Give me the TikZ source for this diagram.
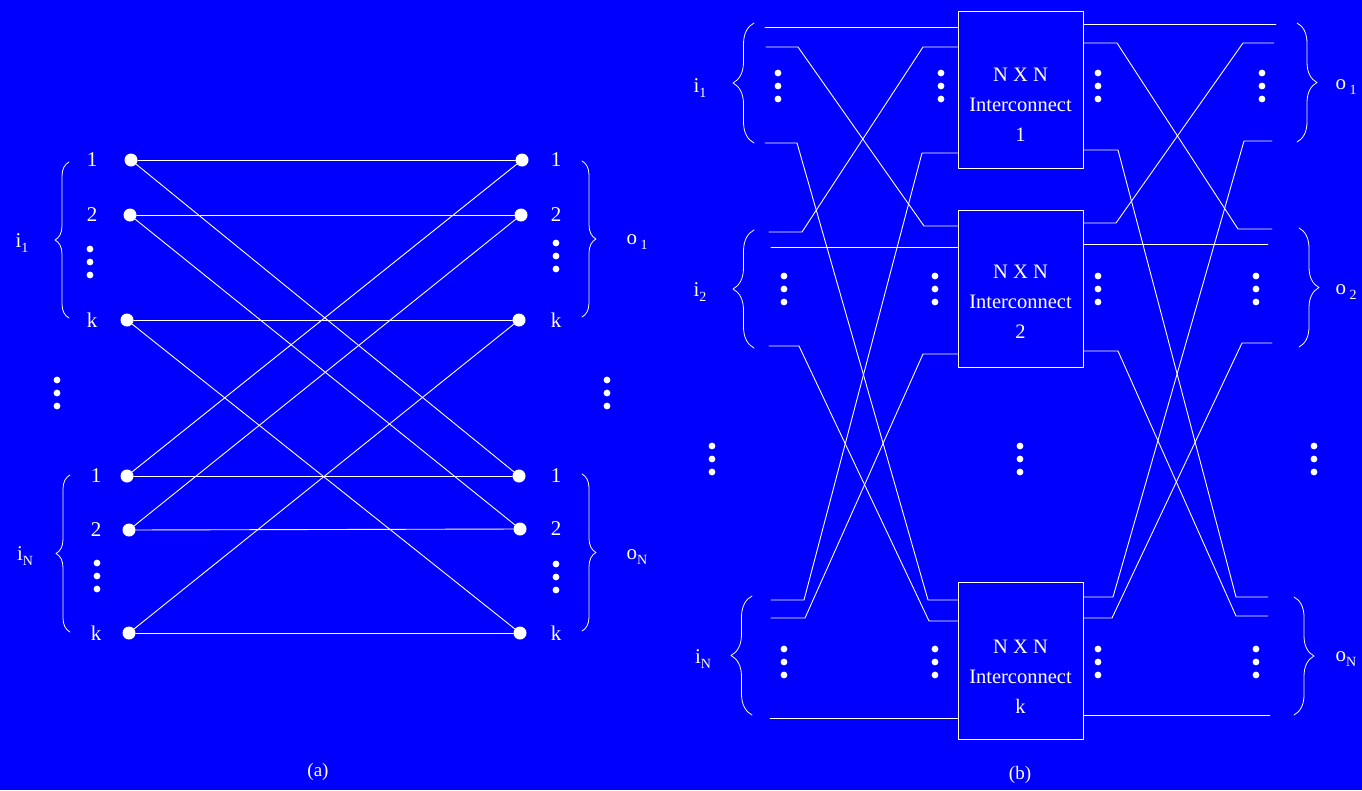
\documentclass[tikz,border=0pt]{standalone}
\usepackage{fontspec}
\setmainfont{Liberation Serif}
\usetikzlibrary{decorations.pathreplacing}

\newcommand{\sub}[1]{\raisebox{-5pt}{\fontsize{14}{14}\selectfont #1}}
\newcommand{\dotcol}[2]{\fill (#1,#2-13) circle (3.4pt) (#1,#2) circle (3.4pt) (#1,#2+13) circle (3.4pt);}

\begin{document}
\begin{tikzpicture}[x=1pt, y=-1pt, color=white, line join=round, line cap=round,
    font=\fontsize{21}{21}\selectfont,
    wire/.style={line width=0.9pt},
    port/.style={circle, fill=white, inner sep=0pt, minimum size=13pt},
    brc/.style={line width=0.8pt, decorate, decoration={brace, amplitude=#1}},
    brc/.default=14pt,
    ic/.style={draw, line width=1pt, minimum width=125pt, minimum height=157pt, inner sep=0pt},
    ictext/.style={align=center, inner sep=0pt, font=\fontsize{20.5}{30}\selectfont},
    lbl/.style={inner sep=0pt}]

\fill[blue] (0,0) rectangle (1362,790);
\useasboundingbox (0,0) rectangle (1362,790);

% (a) single stage
\node[port] (la1) at (131,160) {};
\node[port] (la2) at (130,215) {};
\node[port] (lak) at (127,320) {};
\node[port] (lb1) at (127,476) {};
\node[port] (lb2) at (129,530) {};
\node[port] (lbk) at (129,633) {};
\node[port] (ra1) at (522,160) {};
\node[port] (ra2) at (521,215) {};
\node[port] (rak) at (519,320) {};
\node[port] (rb1) at (519,476) {};
\node[port] (rb2) at (520,529) {};
\node[port] (rbk) at (520,633) {};

\node[lbl] (nla1) at (92,160) {1};
\node[lbl] (nla2) at (92,215) {2};
\node[lbl] (nlak) at (92,320) {k};
\node[lbl] (nlb1) at (96,476) {1};
\node[lbl] (nlb2) at (96,530) {2};
\node[lbl] (nlbk) at (96,633) {k};
\node[lbl] (nra1) at (556,160) {1};
\node[lbl] (nra2) at (556,215) {2};
\node[lbl] (nrak) at (556,320) {k};
\node[lbl] (nrb1) at (556,476) {1};
\node[lbl] (nrb2) at (556,529) {2};
\node[lbl] (nrbk) at (556,633) {k};

\draw[wire] (la1) -- (ra1);
\draw[wire] (la2) -- (ra2);
\draw[wire] (lak) -- (rak);
\draw[wire] (lb1) -- (rb1);
\draw[wire] (lb2) -- (rb2);
\draw[wire] (lbk) -- (rbk);
\draw[wire] (la1) -- (rb1);
\draw[wire] (la2) -- (rb2);
\draw[wire] (lak) -- (rbk);
\draw[wire] (lb1) -- (ra1);
\draw[wire] (lb2) -- (ra2);
\draw[wire] (lbk) -- (rak);

\dotcol{90}{262}
\dotcol{97}{576}
\dotcol{556}{256}
\dotcol{556}{577}
\dotcol{57}{393}
\dotcol{607}{393}

\draw[brc] (69,318) -- (69,162);
\draw[brc] (70,632) -- (70,475);
\draw[brc] (582,161) -- (582,317);
\draw[brc] (582,474) -- (582,631);

\node[lbl] (ia) at (22,243) {i\sub{1}};
\node[lbl] (iaN) at (25,556) {i\sub{N}};
\node[lbl] (oa) at (637,242) {o\,\sub{1}};
\node[lbl] (oaN) at (637,557) {o\sub{N}};

\node[lbl] (capa) at (318,772) {\fontsize{19}{19}\selectfont (a)};

% (b) k interconnects
\node[ic] (box1) at (1020.5,89.5) {};
\node[ic] (box2) at (1020.5,288.5) {};
\node[ic] (boxk) at (1020.5,660.5) {};
\node[ictext] (t1) at ([yshift=-15pt]box1.center) {N X N\\Interconnect\\1};
\node[ictext] (t2) at ([yshift=-13pt]box2.center) {N X N\\Interconnect\\2};
\node[ictext] (tk) at ([yshift=-16pt]boxk.center) {N X N\\Interconnect\\k};

\coordinate (p11) at (765,27);
\coordinate (p12) at (766,47);
\coordinate (p1k) at (765,143);
\coordinate (p21) at (769,232);
\coordinate (p22) at (771,247);
\coordinate (p2k) at (769,346);
\coordinate (pN1) at (771,600);
\coordinate (pN2) at (771,618);
\coordinate (pNk) at (770,718);

\draw[wire] (p11) -- (box1.west |- p11);
\draw[wire] (p12) -- ++(32,0) -- (924,226) -- (box2.west |- 0,226);
\draw[wire] (p1k) -- ++(32,0) -- (928,600) -- (boxk.west |- 0,600);
\draw[wire] (p21) -- ++(33,0) -- (923,47) -- (box1.west |- 0,47);
\draw[wire] (p22) -- (box2.west |- p22);
\draw[wire] (p2k) -- ++(30,0) -- (929,621) -- (boxk.west |- 0,621);
\draw[wire] (pN1) -- ++(33,0) -- (922,153) -- (box1.west |- 0,153);
\draw[wire] (pN2) -- ++(34,0) -- (923,354) -- (box2.west |- 0,354);
\draw[wire] (pNk) -- (boxk.west |- pNk);

\coordinate (q11) at (1276,24);
\coordinate (q12) at (1274,43);
\coordinate (q1k) at (1272,141);
\coordinate (q21) at (1272,229);
\coordinate (q22) at (1268,244);
\coordinate (q2k) at (1272,343);
\coordinate (qN1) at (1268,597);
\coordinate (qN2) at (1268,616);
\coordinate (qNk) at (1270,715);

\draw[wire] (box1.east |- q11) -- (q11);
\draw[wire] (box1.east |- 0,43) -- (1117,43) -- (1238,229) -- (q21);
\draw[wire] (box1.east |- 0,150) -- (1118,150) -- (1236,597) -- (qN1);
\draw[wire] (box2.east |- 0,223) -- (1116,223) -- (1243,43) -- (q12);
\draw[wire] (box2.east |- q22) -- (q22);
\draw[wire] (box2.east |- 0,351) -- (1118,351) -- (1236,616) -- (qN2);
\draw[wire] (boxk.east |- 0,597) -- (1113,597) -- (1244,141) -- (q1k);
\draw[wire] (boxk.east |- 0,618) -- (1112,618) -- (1242,343) -- (q2k);
\draw[wire] (boxk.east |- qNk) -- (qNk);

\dotcol{778}{86}
\dotcol{941}{86}
\dotcol{1098}{86}
\dotcol{1262}{86}
\dotcol{784}{289}
\dotcol{935}{289}
\dotcol{1098}{289}
\dotcol{1256}{289}
\dotcol{784}{662}
\dotcol{935}{662}
\dotcol{1098}{662}
\dotcol{1256}{662}
\dotcol{712}{459}
\dotcol{1020}{459}
\dotcol{1314}{459}

\draw[brc=21pt] (754,143) -- (754,23);
\draw[brc=21pt] (754,348) -- (754,230);
\draw[brc=21pt] (752,715) -- (752,596);
\draw[brc=20pt] (1297,23) -- (1297,142);
\draw[brc=20pt] (1299,228) -- (1299,347);
\draw[brc=20pt] (1294,597) -- (1294,715);

\node[lbl] (ib1) at (700,88) {i\sub{1}};
\node[lbl] (ib2) at (700,292) {i\sub{2}};
\node[lbl] (ibN) at (703,659) {i\sub{N}};
\node[lbl] (ob1) at (1346,87) {o\,\sub{1}};
\node[lbl] (ob2) at (1346,292) {o\,\sub{2}};
\node[lbl] (obN) at (1346,659) {o\sub{N}};

\node[lbl] (capb) at (1020,775) {\fontsize{19}{19}\selectfont (b)};
\end{tikzpicture}
\end{document}
